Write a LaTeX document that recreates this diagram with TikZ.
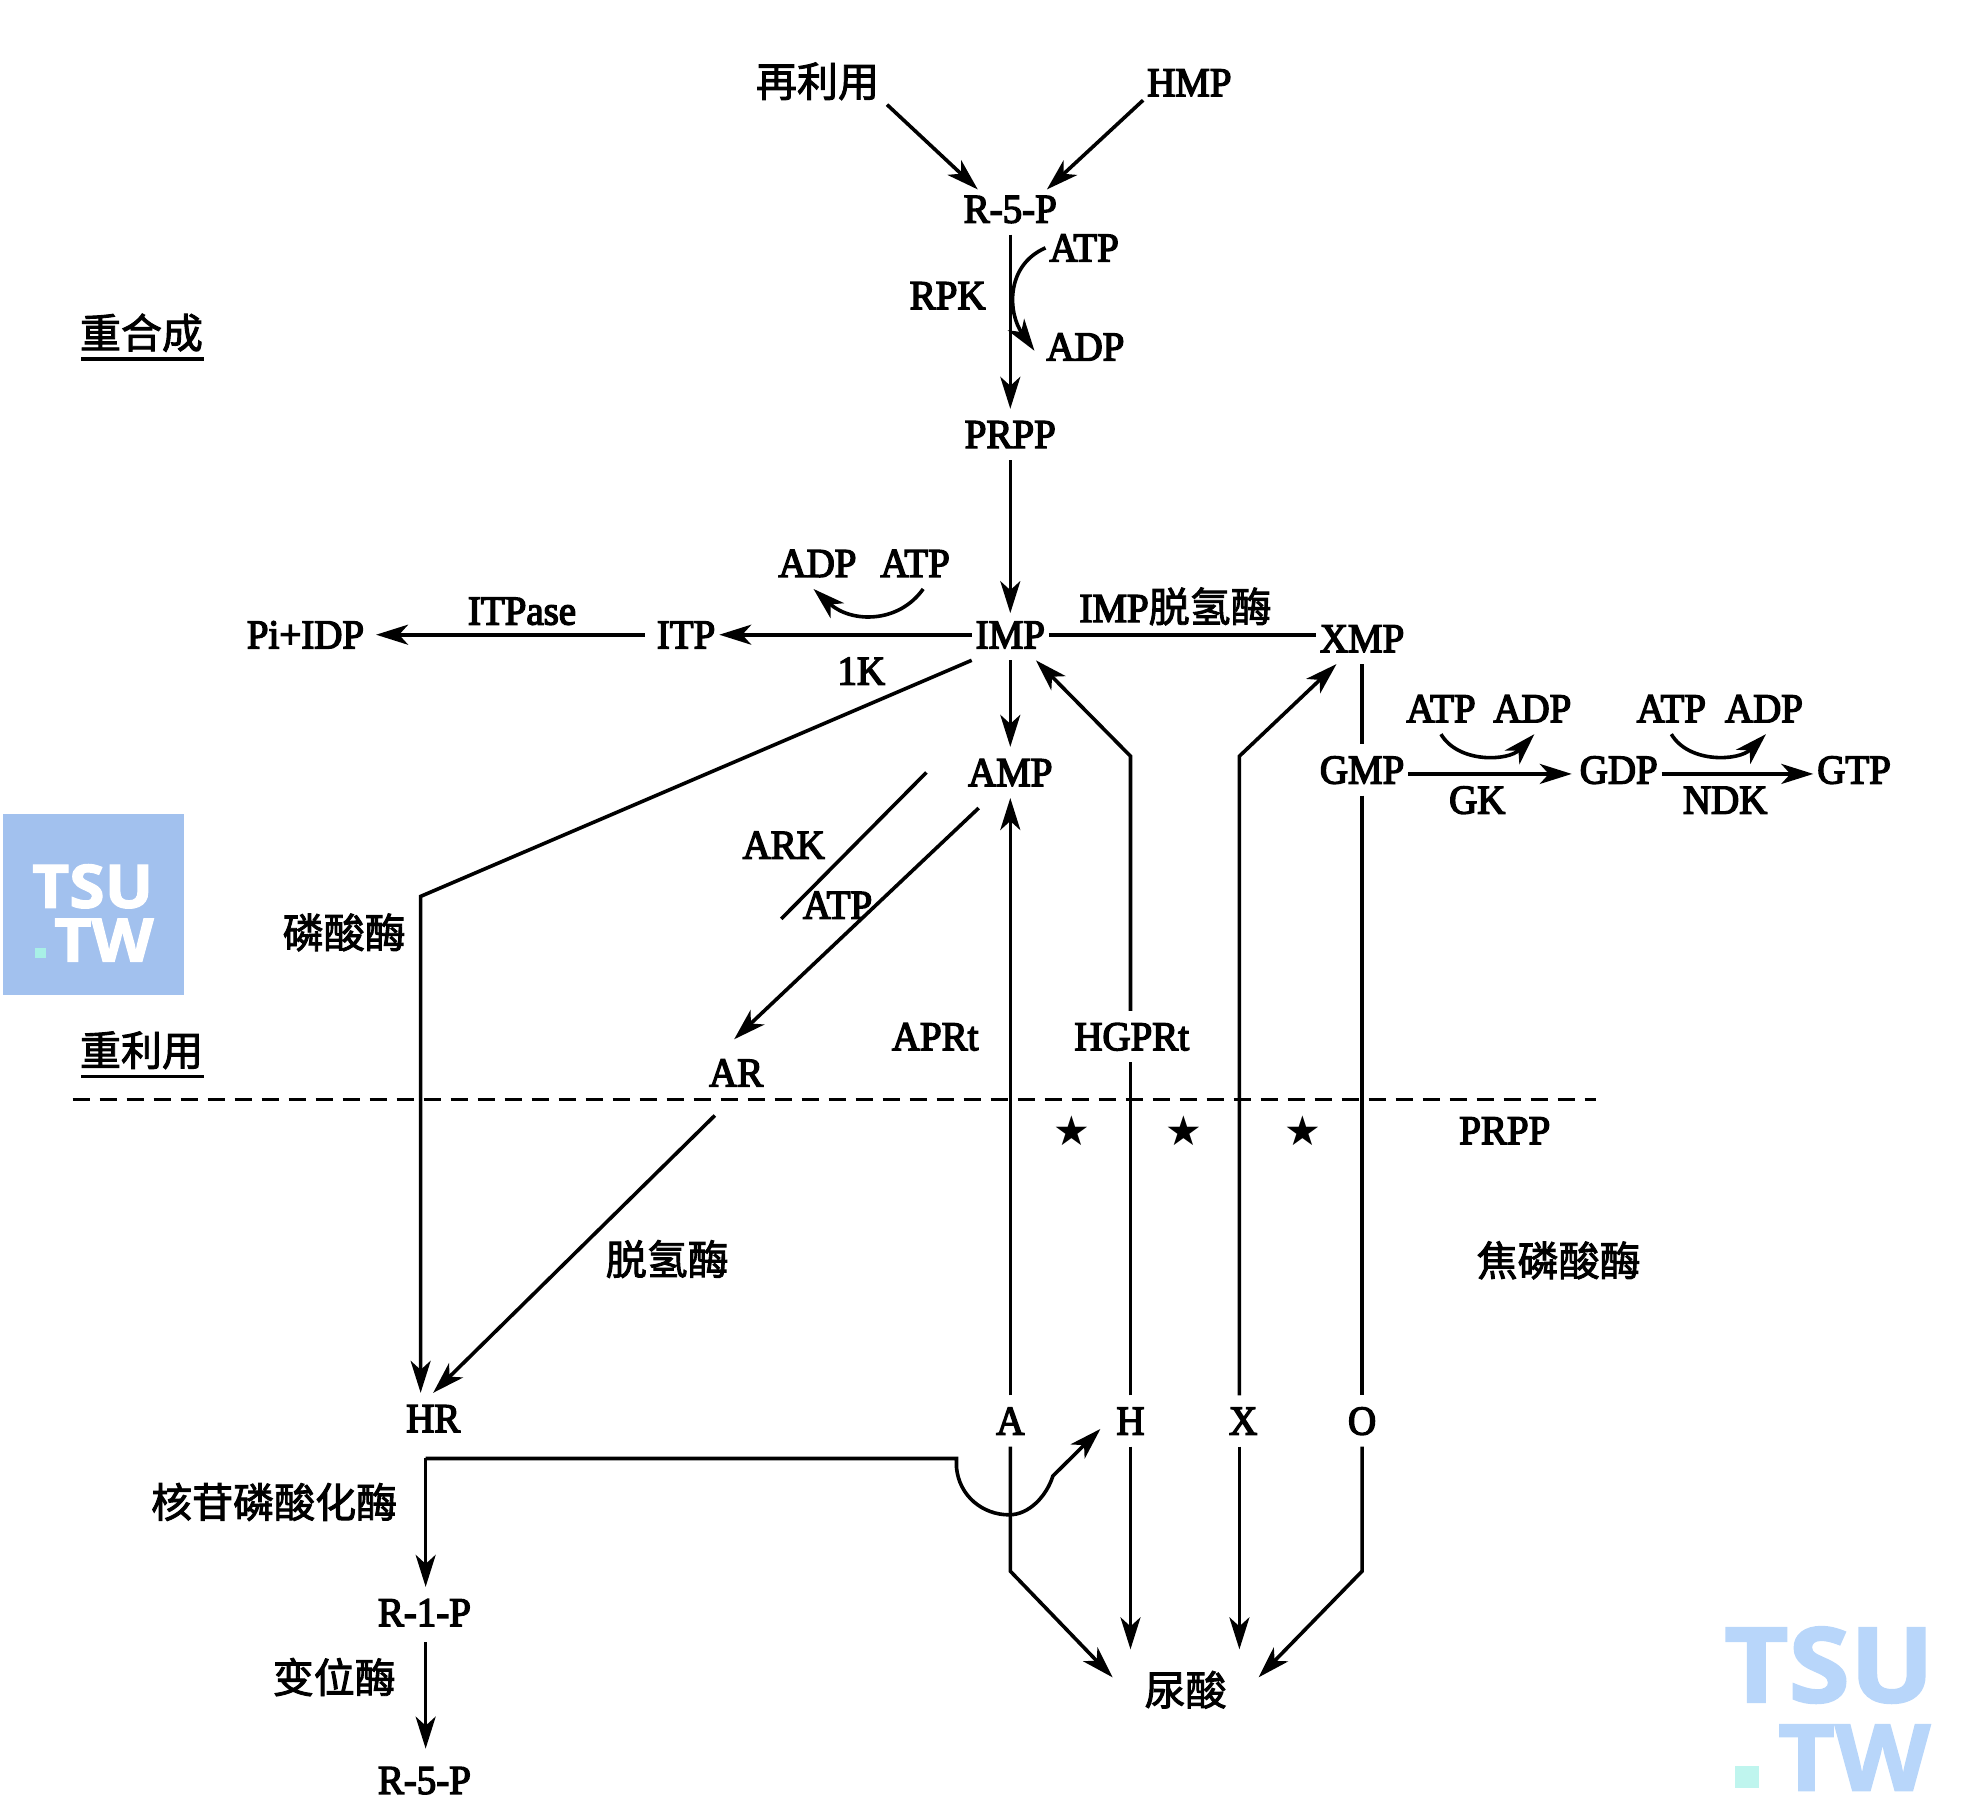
\documentclass[tikz,border=0pt]{standalone}
\usepackage{fontspec}
\usetikzlibrary{arrows.meta}
\setmainfont{Liberation Serif}[FakeBold=3.5,FakeStretch=0.95]
\newfontfamily\cjk{Noto Sans CJK SC}[FakeBold=2.2]
\newfontfamily\symb{DejaVu Sans}
\newfontfamily\wm{Open Sans}[BoldFont={Open Sans Bold},BoldFeatures={FakeBold=2,FakeStretch=1.07}]
\definecolor{wmleft}{HTML}{A2C1EE}
\definecolor{wmright}{HTML}{B8D6FA}
\definecolor{wmdot}{HTML}{A8F0E6}
\definecolor{wmdotb}{HTML}{BFF5EE}
\tikzset{
  lbl/.style={inner xsep=2pt,inner ysep=6pt,outer sep=0pt,text height=13.6pt,text depth=0pt,font=\fontsize{20.5}{25}\selectfont},
  zh/.style={inner xsep=2pt,inner ysep=6pt,outer sep=0pt,text height=16pt,text depth=2pt,font=\fontsize{20.5}{25}\selectfont\cjk},
  star/.style={inner sep=0pt,font=\fontsize{20.5}{22}\selectfont\symb},
  ln/.style={line width=1.8pt,line join=miter},
  arr/.style={ln,-{Stealth[length=16pt,width=10pt,inset=4.5pt]}},
  wmt/.style={inner sep=0pt},
}
\begin{document}
\begin{tikzpicture}[x=0.626pt,y=-0.626pt]
\useasboundingbox (0,0) rectangle (1568,1446);
% watermarks
\fill[wmleft] (2.5,650) rectangle (147,795);
\node[wmt,white,font=\fontsize{30}{30}\selectfont\wm\bfseries] (wl1) at (74,708) {TSU};
\node[wmt,white,font=\fontsize{30}{30}\selectfont\wm\bfseries] (wl2) at (83,751) {TW};
\fill[wmdot] (28,757) rectangle (37,765);
\node[wmt,wmright,font=\fontsize{52}{52}\selectfont\wm\bfseries] (wr1) at (1461,1330) {TSU};
\node[wmt,wmright,font=\fontsize{46}{46}\selectfont\wm\bfseries] (wr2) at (1481,1404) {TW};
\fill[wmdotb] (1386,1411) rectangle (1405,1428);
% dashed divider
\coordinate (dashL) at (58,878);
\coordinate (dashR) at (1275,878);
\draw[line width=1.4pt,dash pattern=on 8.5pt off 5pt] (dashL) -- (dashR);
% labels
\node[zh] (reuse) at (653,66) {再利用};
\node[lbl] (hmp) at (950,66) {HMP};
\node[lbl] (r5p) at (807,167) {R-5-P};
\node[lbl] (atpa) at (866,198) {ATP};
\node[lbl] (rpk) at (757,236) {RPK};
\node[lbl] (adpa) at (867,277) {ADP};
\node[lbl] (prpp) at (807,347) {PRPP};
\node[zh] (rehe) at (113,267) {重合成};
\node[lbl] (adpb) at (653,450) {ADP};
\node[lbl] (atpb) at (731,450) {ATP};
\node[lbl] (itpase) at (417,488) {ITPase};
\node[lbl] (pi) at (244,507) {Pi+IDP};
\node[lbl] (itp) at (548,507) {ITP};
\node[lbl] (imp) at (807,507) {IMP};
\node[lbl] (ik) at (688,536) {1K};
\node[lbl,inner xsep=0pt] (impd) at (939,486) {IMP{\cjk\fontsize{20.5}{25}\selectfont 脱氢酶}};
\node[lbl] (xmp) at (1088,510) {XMP};
\node[lbl] (gmp) at (1088,615) {GMP};
\node[lbl] (atpc) at (1151,566) {ATP};
\node[lbl] (adpc) at (1224,566) {ADP};
\node[lbl] (gdp) at (1293,615) {GDP};
\node[lbl] (atpd) at (1335,566) {ATP};
\node[lbl] (adpd) at (1409,566) {ADP};
\node[lbl] (gtp) at (1481,615) {GTP};
\node[lbl] (gk) at (1180,639) {GK};
\node[lbl] (ndk) at (1378,639) {NDK};
\node[lbl] (amp) at (807,617) {AMP};
\node[lbl] (ark) at (626,675) {ARK};
\node[lbl] (atpe) at (669,723) {ATP};
\node[zh] (lin) at (275,746) {磷酸酶};
\node[lbl] (aprt) at (747,828) {APRt};
\node[lbl] (hgprt) at (904,828) {HGPRt};
\node[zh] (reli) at (113,840) {重利用};
\node[lbl] (ar) at (588,857) {AR};
\node[star] (s1) at (856,903) {★};
\node[star] (s2) at (946,903) {★};
\node[star] (s3) at (1041,903) {★};
\node[lbl] (prppb) at (1202,903) {PRPP};
\node[zh] (tq) at (533,1007) {脱氢酶};
\node[zh] (jl) at (1245,1008) {焦磷酸酶};
\node[lbl] (hr) at (346,1133) {HR};
\node[lbl] (a) at (807,1135) {A};
\node[lbl] (h) at (903,1135) {H};
\node[lbl] (x) at (993,1135) {X};
\node[lbl] (o) at (1088,1135) {O};
\node[zh] (hg) at (219,1201) {核苷磷酸化酶};
\node[lbl] (r1p) at (339,1288) {R-1-P};
\node[zh] (bw) at (267,1341) {变位酶};
\node[lbl] (r5pb) at (339,1422) {R-5-P};
\node[zh] (uric) at (947,1351) {尿酸};
% underlines
\coordinate (ua) at (65,287); \coordinate (ub) at (163,287);
\coordinate (uc) at (65,860); \coordinate (ud) at (163,860);
\draw[ln] (ua) -- (ub);
\draw[ln] (uc) -- (ud);
% named bends
\coordinate (hrb) at (336,716);
\coordinate (hb) at (903,604);
\coordinate (xb) at (990,604);
\coordinate (ab) at (807,1255);
\coordinate (ob) at (1088,1255);
\coordinate (arkA) at (740,617);
\coordinate (arkB) at (624,734);
\coordinate (ars) at (571,891);
\coordinate (hc) at (340,1165);
\coordinate (hd) at (764,1165);
\coordinate (he) at (806,1210);
\coordinate (hf) at (841,1179);
% connectors
\draw[arr] ([xshift=2pt,yshift=4pt]reuse.south east) -- ([xshift=-1pt,yshift=-3pt]r5p.140);
\draw[arr] ([yshift=4pt]hmp.south west) -- ([yshift=-3pt]r5p.35);
\draw[arr] (r5p.south) -- (prpp.north);
\draw[arr] (atpa.west) .. controls (803,212) and (805,250) .. ([xshift=-4pt,yshift=-2pt]adpa.west);
\draw[arr] (prpp.south) -- ([yshift=-2pt]imp.north);
\draw[arr] (imp.west) -- (itp.east);
\draw[arr] ([xshift=-4pt]itp.west) -- ([xshift=4pt]pi.east);
\draw[arr] ([xshift=4pt]atpb.south) .. controls (718,498) and (680,498) .. ([xshift=-2pt]adpb.south);
\draw[ln] (imp.east) -- (imp.east -| xmp.west);
\draw[arr] (imp.south) -- (amp.north);
\draw[arr] (imp.south west) -- (hrb) -- (hrb |- hr.north);
\draw[arr] ([xshift=-3pt,yshift=-5pt]amp.-135) -- ([xshift=-1pt,yshift=4pt]ar.north);
\draw[ln] (arkA) -- (arkB);
\draw[arr] (ars) -- (hr.north);
\draw[arr] (a.north) -- (amp.south);
\draw[ln] (h.north -| hb) -- (hgprt.south -| hb);
\draw[arr] (hgprt.north -| hb) -- (hb) -- (imp.-45);
\draw[arr] (x.north -| xb) -- (xb) -- (xmp.-135);
\draw[ln] (xmp.south) -- (gmp.north);
\draw[ln] (gmp.south) -- (o.north);
\draw[arr] ([yshift=-2pt]gmp.east) -- ([xshift=-2pt,yshift=-2pt]gdp.west);
\draw[arr] ([yshift=-2pt]gdp.east) -- ([yshift=-2pt]gtp.west);
\draw[arr] (atpc.south) .. controls (1165,610) and (1205,608) .. ([xshift=1pt]adpc.south);
\draw[arr] (atpd.south) .. controls (1349,610) and (1389,608) .. ([xshift=1pt]adpd.south);
\draw[arr] (a.south) -- (ab) -- ([xshift=-14pt,yshift=7pt]uric.west);
\draw[arr] (h.south) -- ([yshift=6pt]h.south |- uric.north);
\draw[arr] (x.south -| xb) -- ([yshift=6pt]xb |- uric.north);
\draw[arr] (o.south) -- (ob) -- ([xshift=14pt,yshift=7pt]uric.east);
\draw[arr] (hc) -- (hc |- r1p.north);
\draw[arr] (hc) -- (hd) -- (764,1172) .. controls (766,1195) and (785,1210) .. (he) .. controls (822,1210) and (836,1195) .. (hf) -- ([xshift=-6pt,yshift=-4pt]h.west);
\draw[arr] ([yshift=-2pt]r1p.south -| hc) -- ([yshift=3pt]r5pb.north -| hc);
\end{tikzpicture}
\end{document}
